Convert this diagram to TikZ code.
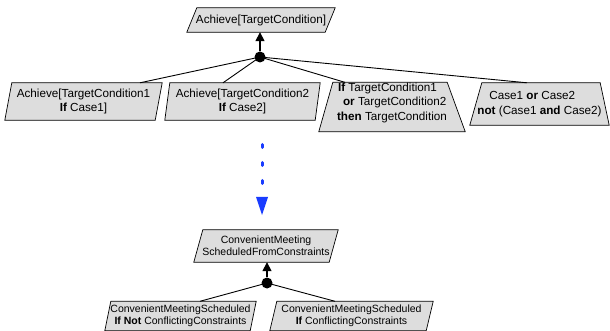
\documentclass[tikz,border=0pt]{standalone}
\usepackage{fontspec}
\setmainfont{Liberation Sans}
\usetikzlibrary{arrows.meta,backgrounds}
\definecolor{slabgray}{RGB}{221,221,221}
\definecolor{flowblue}{RGB}{25,60,255}
% goal outline around a text node: #2..#5 shift the corners (TL, TR, BR, BL), #6 extends the bottom edge
\newcommand\slab[6]{%
  \filldraw[slabshape] ([xshift=#2]#1.north west) -- ([xshift=#3]#1.north east)
    -- ([xshift=#4,yshift=-#6]#1.south east) -- ([xshift=#5,yshift=-#6]#1.south west) -- cycle;}
\tikzset{
  goal/.style={inner sep=0pt, align=center, font=\fontsize{11.7}{14.5}\selectfont},
  goalsmall/.style={goal, font=\fontsize{10.5}{12.2}\selectfont},
  slabshape/.style={fill=slabgray, draw=black, line width=0.7pt, line join=miter},
  andjoin/.style={circle, fill=black, inner sep=0pt, minimum size=11pt},
  refine/.style={line width=0.9pt},
  upward/.style={line width=1.6pt, -{Triangle[length=9pt,width=9pt]}},
  flowdots/.style={draw=flowblue, line width=3pt, line cap=round, dash pattern=on 3pt off 15pt,
    -{Triangle[length=18pt,width=12pt,fill=flowblue,line width=0pt]}},
}
\begin{document}
\begin{tikzpicture}[x=1pt,y=-1pt]
  \useasboundingbox (0,0) rectangle (610,331);

  % upper refinement
  \node[goal, minimum width=148pt, minimum height=24pt] (g0) at (261,20) {Achieve[TargetCondition]};
  \node[goal, minimum width=157pt, minimum height=37pt] (g1) at (83.5,101.5)
    {Achieve[TargetCondition1\\\textbf{If} Case1]};
  \node[goal, minimum width=155pt, minimum height=37pt] (g2) at (242.5,101.5)
    {Achieve[TargetCondition2\\\textbf{If} Case2]};
  \node[goal, align=left, minimum width=146pt, minimum height=39pt] (g3) at (392,102.5)
    {\hspace*{1pt}\textbf{If} TargetCondition1\\\hspace*{6pt}\textbf{or} TargetCondition2\\\textbf{then} TargetCondition};
  \node[goal, align=left, minimum width=139pt, minimum height=42pt] (g4) at (539.5,104)
    {\hspace*{12pt}Case1 \textbf{or} Case2\\\textbf{not} (Case1 \textbf{and} Case2)};
  \node[andjoin] (j1) at (260,57) {};

  % lower refinement
  \node[goalsmall, minimum width=144pt, minimum height=32pt] (h0) at (266,246)
    {ConvenientMeeting\\ScheduledFromConstraints};
  \node[goalsmall, minimum width=151pt, minimum height=29pt] (h1) at (180.5,316)
    {ConvenientMeetingScheduled\\\textbf{If Not} ConflictingConstraints};
  \node[goalsmall, minimum width=163pt, minimum height=29pt] (h2) at (351.5,316)
    {ConvenientMeetingScheduled\\\textbf{If} ConflictingConstraints};
  \node[andjoin] (j2) at (267,283) {};

  % progression between the two refinements
  \coordinate (f0) at (262,144.5);
  \coordinate (f1) at (262,215);
  \draw[flowdots] (f0) -- (f1);

  \begin{scope}[on background layer]
    \slab{g0}{10pt}{0pt}{-10pt}{0pt}{0pt}
    \slab{g1}{7pt}{0pt}{-7pt}{0pt}{0pt}
    \slab{g2}{5pt}{0pt}{-5pt}{0pt}{0pt}
    \slab{g3}{14pt}{-18pt}{0pt}{0pt}{9pt}
    \slab{g4}{12pt}{-9pt}{0pt}{0pt}{0pt}
    \slab{h0}{9pt}{0pt}{-9pt}{0pt}{0pt}
    \slab{h1}{6pt}{0pt}{-6pt}{0pt}{0pt}
    \slab{h2}{7pt}{0pt}{-7pt}{0pt}{0pt}

    \draw[refine] (j1.center) -- ([xshift=56.5pt]g1.north);
    \draw[refine] (j1.center) -- ([xshift=-19.5pt]g2.north);
    \draw[refine] (j1.center) -- ([xshift=-47pt]g3.north);
    \draw[refine] (j1.center) -- ([xshift=-12.5pt]g4.north);
    \draw[refine] (j2.center) -- ([xshift=19.5pt]h1.north);
    \draw[refine] (j2.center) -- ([xshift=-16.5pt]h2.north);
  \end{scope}

  \draw[upward] (j1.north) -- (j1 |- g0.south);
  \draw[upward] (j2.north) -- (j2 |- h0.south);
\end{tikzpicture}
\end{document}
